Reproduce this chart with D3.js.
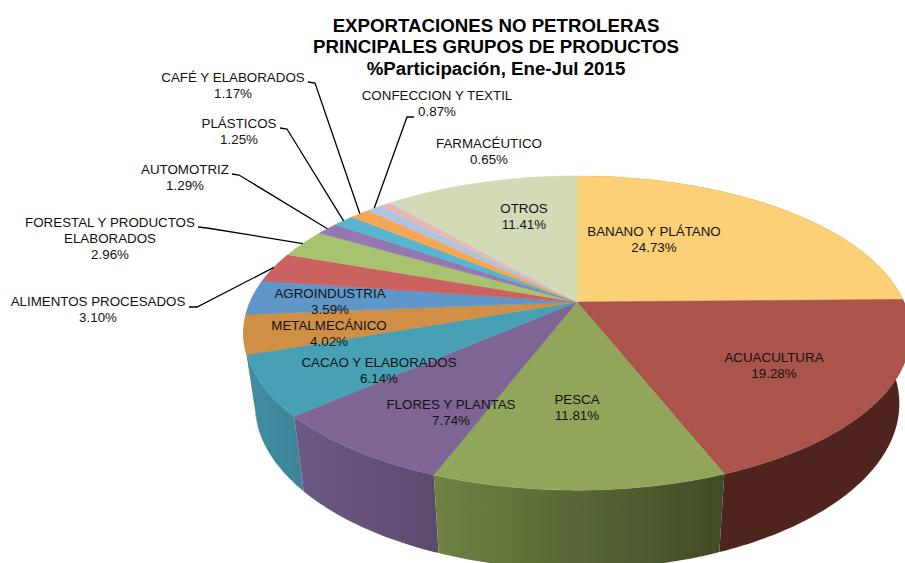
<!DOCTYPE html>
<html>
<head>
<meta charset="utf-8">
<script src="https://cdn.jsdelivr.net/npm/d3@7"></script>
<style>
  html, body { margin: 0; padding: 0; background: #fff; }
  svg { display: block; }
  text { font-family: "Liberation Sans", Arial, sans-serif; fill: #111; }
</style>
</head>
<body>
<div id="chart"></div>
<script>
var titleLines = ["EXPORTACIONES NO PETROLERAS", "PRINCIPALES GRUPOS DE PRODUCTOS", "%Participación, Ene-Jul 2015"];

var categories = [
  ["BANANO Y PLÁTANO"], ["ACUACULTURA"], ["PESCA"], ["FLORES Y PLANTAS"], ["CACAO Y ELABORADOS"],
  ["METALMECÁNICO"], ["AGROINDUSTRIA"], ["ALIMENTOS PROCESADOS"], ["FORESTAL Y PRODUCTOS", "ELABORADOS"],
  ["AUTOMOTRIZ"], ["PLÁSTICOS"], ["CAFÉ Y ELABORADOS"], ["CONFECCION Y TEXTIL"], ["FARMACÉUTICO"], ["OTROS"]
];
var values = [24.73, 19.28, 11.81, 7.74, 6.14, 4.02, 3.59, 3.10, 2.96, 1.29, 1.25, 1.17, 0.87, 0.65, 11.41];
var topColors = ["#fcd077", "#ab544c", "#92a65b", "#7e6596", "#47a0b3", "#d08f45", "#5f97c9", "#cb6260",
                 "#a9c26f", "#9478b1", "#57b6cd", "#f7a654", "#b0c2dd", "#e4b8b7", "#d2dab8"];
// wall shading, left and right end of each slice's gradient
var wallLeft  = ["#8f7040", "#4f231e", "#6f8243", "#6c5a85", "#3f8ea3", "#c98a45", "#5f97c9", "#cb6260",
                 "#a9c26f", "#9478b1", "#57b6cd", "#f7a654", "#b0c2dd", "#e4b8b7", "#d2dab8"];
var wallRight = ["#8f7040", "#4f231e", "#3f4b26", "#5c4a6e", "#3d8397", "#c98a45", "#5f97c9", "#cb6260",
                 "#a9c26f", "#9478b1", "#57b6cd", "#f7a654", "#b0c2dd", "#e4b8b7", "#d2dab8"];

// label centre x, first line centre y
var labelX = [654, 774, 577, 451, 379, 329, 330, 98, 110, 185, 239, 233, 437, 489, 524];
var labelY = [231, 357, 399, 404, 362, 325, 293, 301, 222, 169, 123, 77, 95, 143, 208];

// elbow of the leader lines: start, bend. Last point comes from the slice itself.
var leaders = {
  7: [[189, 307], [197, 307]],
  8: [[198, 227], [207, 228]],
  9: [[232, 174], [239, 175]],
  10: [[280, 128], [287, 129]],
  11: [[308, 82], [315, 83]],
  12: [[414, 117], [407, 117]]
};

var width = 905, height = 563;
var svg = d3.select("#chart").append("svg").attr("width", width).attr("height", height);
var defs = svg.append("defs");

// perspective projection of the tilted disc, a = clockwise from 12 o'clock
var persp = 0.1975;
var topX = d3.scaleLinear().domain([-1, 1]).range([577 - 327, 577 + 327]);
var topY = d3.scaleLinear().domain([-1, 1]).range([302 + 151, 302 - 151]);
var botX = d3.scaleLinear().domain([-1, 1]).range([577 - 316, 577 + 316]);
var botY = d3.scaleLinear().domain([-1, 1]).range([371 + 159, 371 - 159]);

function project(a, sx, sy) {
  var u = Math.sin(a), w = Math.cos(a), d = 1 + persp * w;
  return [sx(u / d), sy(w / d)];
}
function arcPoints(a0, a1, sx, sy) {
  var n = Math.max(2, Math.ceil((a1 - a0) * 60));
  return d3.range(n + 1).map(function(i) {
    return project(a0 + (a1 - a0) * i / n, sx, sy);
  });
}

var pie = d3.pie().sort(null)(values);
var line = d3.line();

// walls first: the ones nearest the viewer (bottom of the disc) go on last
var walls = pie.map(function(d, i) { return {d: d, i: i}; })
  .filter(function(s) { return s.d.endAngle > Math.PI * 0.45 && s.d.startAngle < Math.PI * 1.55; })
  .sort(function(a, b) {
    return Math.cos((a.d.startAngle + a.d.endAngle) / 2) < Math.cos((b.d.startAngle + b.d.endAngle) / 2) ? 1 : -1;
  });

walls.forEach(function(s) {
  var grad = defs.append("linearGradient").attr("id", "wall" + s.i);
  grad.append("stop").attr("offset", "0%").attr("stop-color", wallLeft[s.i]);
  grad.append("stop").attr("offset", "100%").attr("stop-color", wallRight[s.i]);
  var upper = arcPoints(s.d.startAngle, s.d.endAngle, topX, topY);
  var lower = arcPoints(s.d.startAngle, s.d.endAngle, botX, botY).reverse();
  svg.append("path")
    .attr("d", line(upper.concat(lower)) + "Z")
    .attr("fill", "url(#wall" + s.i + ")");
});

// top surface
var apex = [topX(0), topY(0)];
svg.selectAll("path.slice")
  .data(pie)
  .enter().append("path")
  .attr("class", "slice")
  .attr("d", function(d) {
    return line([apex].concat(arcPoints(d.startAngle, d.endAngle, topX, topY))) + "Z";
  })
  .attr("fill", function(d, i) { return topColors[i]; })
  .attr("stroke", function(d, i) { return topColors[i]; })
  .attr("stroke-width", 0.5);

// leader lines
Object.keys(leaders).forEach(function(k) {
  var d = pie[k];
  var end = project((d.startAngle + d.endAngle) / 2, topX, topY);
  svg.append("path")
    .attr("d", line(leaders[k].concat([end])))
    .attr("fill", "none")
    .attr("stroke", "#000")
    .attr("stroke-width", 1.3);
});

// labels
categories.forEach(function(lines, i) {
  var rows = lines.concat([values[i].toFixed(2) + "%"]);
  var t = svg.append("text")
    .attr("text-anchor", "middle")
    .attr("font-size", 13.35);
  rows.forEach(function(r, j) {
    t.append("tspan")
      .attr("x", labelX[i])
      .attr("y", labelY[i] + j * 16.3 + 4.6)
      .text(r);
  });
});

// title
svg.append("g").selectAll("text")
  .data(titleLines)
  .enter().append("text")
  .attr("x", 496)
  .attr("y", function(d, i) { return 31.5 + i * 21.7; })
  .attr("text-anchor", "middle")
  .attr("font-size", 18.7)
  .attr("font-weight", "bold")
  .style("fill", "#000")
  .text(function(d) { return d; });
</script>
</body>
</html>
